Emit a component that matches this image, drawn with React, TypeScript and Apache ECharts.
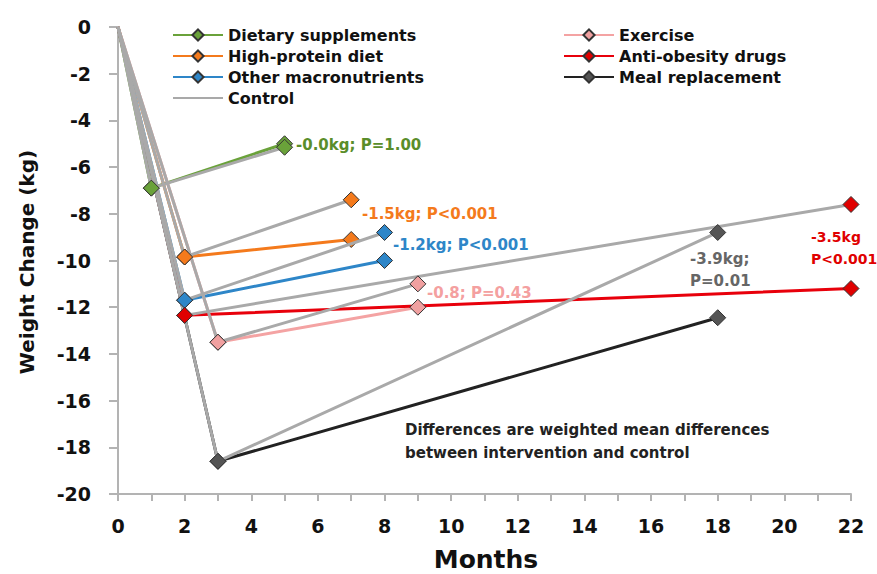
import React, { useEffect, useRef } from "react";
import * as echarts from "echarts";

// ---- data ----
const interventionNames = [
  "Dietary supplements",
  "High-protein diet",
  "Other macronutrients",
  "Exercise",
  "Anti-obesity drugs",
  "Meal replacement",
];
const startMonth = [1, 2, 2, 3, 2, 3];
const startValue = [-6.9, -9.85, -11.7, -13.5, -12.35, -18.6];
const endMonth = [5, 7, 8, 9, 22, 18];
const interventionEnd = [-5.0, -9.1, -10.0, -12.0, -11.2, -12.45];
const controlEnd = [-5.15, -7.4, -8.8, -11.0, -7.6, -8.8];

const lineColors = ["#6aa23a", "#f47a1c", "#2e86c8", "#f4a3a3", "#e8000b", "#222222"];
const markerColors = ["#6aa23a", "#f47a1c", "#2e86c8", "#f0a0a0", "#e00000", "#555555"];
const controlColor = "#a9a9a9";

const diffLabels = [
  ["-0.0kg; P=1.00"],
  ["-1.5kg; P<0.001"],
  ["-1.2kg; P<0.001"],
  ["-0.8; P=0.43"],
  ["-3.5kg", "P<0.001"],
  ["-3.9kg;", "P=0.01"],
];
const labelColors = ["#5a8d2a", "#f47a1c", "#2e86c8", "#f4a0a0", "#e00000", "#666666"];
const labelPos = [
  [296, 145],
  [362, 214],
  [393, 245],
  [427, 293],
  [811, 237],
  [690, 259],
];
const labelSizes = [15, 15, 15, 15, 14, 15];
const noteLines = ["Differences are weighted mean differences", "between intervention and control"];

const FONT = "DejaVu Sans";

export default function App() {
  const ref = useRef<HTMLDivElement>(null);
  useEffect(() => {
    if (!ref.current) return;
    const chart = echarts.init(ref.current, null, { renderer: "svg" });

    const markerStyle = (i: number) => ({
      color: markerColors[i],
      borderColor: "#333",
      borderWidth: 1,
    });

    const interventionSeries = interventionNames.map((name, i) => ({
      type: "line",
      name,
      symbol: "diamond",
      symbolSize: 16,
      z: 2,
      lineStyle: { color: lineColors[i], width: 3 },
      itemStyle: markerStyle(i),
      data: [
        { value: [0, 0], symbol: "none" },
        [startMonth[i], startValue[i]],
        [endMonth[i], interventionEnd[i]],
      ],
    }));

    const controlSeries = interventionNames.map((_, i) => ({
      type: "line",
      name: "Control",
      symbol: "diamond",
      symbolSize: 16,
      z: 3,
      lineStyle: { color: controlColor, width: 3 },
      itemStyle: markerStyle(i),
      data: [
        { value: [0, 0], symbol: "none" },
        [startMonth[i], startValue[i]],
        [endMonth[i], controlEnd[i]],
      ],
    }));

    const legendDummy = {
      type: "line",
      name: "Control",
      symbol: "none",
      lineStyle: { color: controlColor, width: 3 },
      itemStyle: { color: controlColor },
      data: [],
    };

    const graphics: any[] = [];
    diffLabels.forEach((lines, i) => {
      lines.forEach((t, j) => {
        graphics.push({
          type: "text",
          x: labelPos[i][0],
          y: labelPos[i][1] + j * 22,
          z: 10,
          style: {
            text: t,
            fill: labelColors[i],
            font: `bold ${labelSizes[i]}px '${FONT}'`,
            textAlign: "left",
            textVerticalAlign: "middle",
          },
        });
      });
    });
    noteLines.forEach((t, j) => {
      graphics.push({
        type: "text",
        x: 405,
        y: 430 + j * 23,
        style: {
          text: t,
          fill: "#222",
          font: `bold 15px '${FONT}'`,
          textAlign: "left",
          textVerticalAlign: "middle",
        },
      });
    });
    graphics.push({
      type: "text",
      x: 27,
      y: 262,
      rotation: Math.PI / 2,
      style: {
        text: "Weight Change (kg)",
        fill: "#111",
        font: `bold 20px '${FONT}'`,
        textAlign: "center",
        textVerticalAlign: "middle",
      },
    });
    graphics.push({
      type: "text",
      x: 486,
      y: 559,
      style: {
        text: "Months",
        fill: "#111",
        font: `bold 25px '${FONT}'`,
        textAlign: "center",
        textVerticalAlign: "middle",
      },
    });

    const legendCommon = {
      orient: "vertical",
      top: 22,
      itemWidth: 50,
      itemHeight: 14,
      itemGap: 5,
      selectedMode: false,
      textStyle: { fontFamily: FONT, fontWeight: "bold", fontSize: 16, color: "#111" },
    };

    chart.setOption({
      animation: false,
      backgroundColor: "#fff",
      textStyle: { fontFamily: FONT },
      grid: { left: 118, right: 26, top: 27, bottom: 80, containLabel: false },
      legend: [
        {
          ...legendCommon,
          left: 167,
          data: [
            "Dietary supplements",
            "High-protein diet",
            "Other macronutrients",
            { name: "Control", itemStyle: { opacity: 0 } },
          ],
        },
        {
          ...legendCommon,
          left: 558,
          data: ["Exercise", "Anti-obesity drugs", "Meal replacement"],
        },
      ],
      xAxis: {
        type: "value",
        min: 0,
        max: 22,
        interval: 2,
        splitLine: { show: false },
        axisLine: { show: true, onZero: false, lineStyle: { color: "#b3b3b3", width: 2 } },
        axisTick: { show: true, length: 7, lineStyle: { color: "#b3b3b3", width: 2 } },
        minorTick: { show: true, splitNumber: 2, length: 7, lineStyle: { color: "#b3b3b3", width: 2 } },
        axisLabel: { margin: 22, fontSize: 19, fontWeight: "bold", color: "#111", fontFamily: FONT },
      },
      yAxis: {
        type: "value",
        min: -20,
        max: 0,
        interval: 2,
        splitLine: { show: false },
        axisLine: { show: true, onZero: false, lineStyle: { color: "#b3b3b3", width: 2 } },
        axisTick: { show: true, length: 9, lineStyle: { color: "#b3b3b3", width: 2 } },
        axisLabel: { margin: 27, fontSize: 19, fontWeight: "bold", color: "#111", fontFamily: FONT },
      },
      graphic: graphics,
      series: [...interventionSeries, legendDummy, ...controlSeries],
    });
    return () => chart.dispose();
  }, []);
  return (
    <div
      ref={ref}
      style={{ position: "absolute", left: 0, top: 0, width: 877, height: 574 }}
    />
  );
}
